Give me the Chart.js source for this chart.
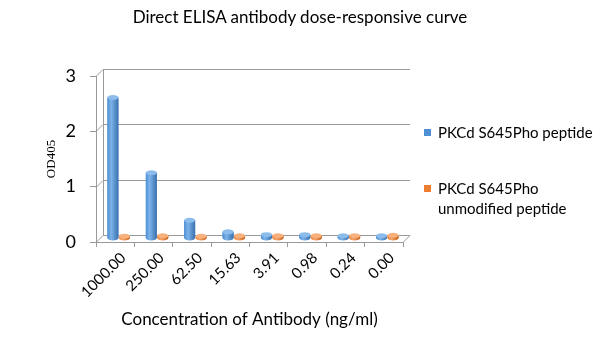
<!DOCTYPE html>
<html>
<head>
<meta charset="utf-8">
<script src="https://cdn.jsdelivr.net/npm/chart.js@4.4.1/dist/chart.umd.min.js"></script>
<style>
  body { margin: 0; background: #fff; }
  #box { position: relative; width: 600px; height: 338px; }
  #titulo { position: absolute; left: 0; top: 6px; width: 600px; text-align: center; font: 17px Lato, sans-serif; color: #000; }
  #legenda { position: absolute; left: 424px; top: 120px; font: 15px Lato, sans-serif; color: #000; }
  .item { position: absolute; left: 0; white-space: nowrap; line-height: 20px; }
  .quad { position: absolute; left: 0; top: 7px; width: 7px; height: 7px; }
  .txt { margin-left: 14px; }
</style>
</head>
<body>
<div id="box">
  <canvas id="grafico" width="600" height="338"></canvas>
  <div id="titulo">Direct ELISA antibody dose-responsive curve</div>
  <div id="legenda"></div>
</div>
<script>
// dados do ELISA direto
const concentracoes = ['1000.00', '250.00', '62.50', '15.63', '3.91', '0.98', '0.24', '0.00'];
const fosfoPeptideo = [2.55, 1.19, 0.33, 0.12, 0.07, 0.07, 0.05, 0.05];
const naoModificado = [0.04, 0.05, 0.04, 0.05, 0.05, 0.05, 0.05, 0.06];
const nomesSeries = [['PKCd S645Pho peptide'], ['PKCd S645Pho', 'unmodified peptide']];
const marcasY = [0, 1, 2, 3];

const cores = [
  { base: '#4f8fd3', claro: '#7db3ea', escuro: '#3a70ad', topo: '#8cbcec' },
  { base: '#ed7d31', claro: '#f7a468', escuro: '#c9601a', topo: '#f8b07c' }
];
const cinza = '#9a9a9a';
// profundidade do "3D" (parede do fundo)
const prof = 7;

// parede do fundo, chão e desenho das colunas arredondadas
const efeito3d = {
  id: 'efeito3d',
  beforeDatasetsDraw(chart) {
    const ctx = chart.ctx;
    const area = chart.chartArea;
    const y = chart.scales.y;
    ctx.save();
    ctx.strokeStyle = cinza;
    ctx.lineWidth = 1;
    ctx.beginPath();
    marcasY.forEach(function (v) {
      const py = Math.round(y.getPixelForValue(v)) + 0.5;
      ctx.moveTo(area.left, py);
      ctx.lineTo(area.left + prof, py - prof);
      ctx.lineTo(area.right + prof, py - prof);
    });
    ctx.moveTo(area.left + prof + 0.5, area.top - prof);
    ctx.lineTo(area.left + prof + 0.5, area.bottom - prof);
    ctx.moveTo(area.right, area.bottom + 0.5);
    ctx.lineTo(area.right + prof, area.bottom - prof + 0.5);
    ctx.stroke();
    ctx.restore();
    // colunas ficam no meio da profundidade
    ctx.save();
    ctx.translate(prof / 2, -prof / 2);
  },
  afterDatasetsDraw(chart) {
    const ctx = chart.ctx;
    chart.data.datasets.forEach(function (ds, i) {
      const c = cores[i];
      chart.getDatasetMeta(i).data.forEach(function (bar) {
        const w = bar.width;
        const x0 = bar.x - w / 2;
        const ry = 2.5;
        const g = ctx.createLinearGradient(x0, 0, x0 + w, 0);
        g.addColorStop(0, c.base);
        g.addColorStop(0.35, c.claro);
        g.addColorStop(1, c.escuro);
        ctx.fillStyle = g;
        // fundo arredondado
        ctx.beginPath();
        ctx.ellipse(bar.x, bar.base, w / 2, ry, 0, 0, Math.PI * 2);
        ctx.fill();
        ctx.fillRect(x0, bar.y, w, bar.base - bar.y);
        // tampa
        ctx.fillStyle = c.topo;
        ctx.beginPath();
        ctx.ellipse(bar.x, bar.y, w / 2, ry, 0, 0, Math.PI * 2);
        ctx.fill();
      });
    });
    ctx.restore();
  }
};

let myChart = new Chart(document.getElementById('grafico'), {
  type: 'bar',
  data: {
    labels: concentracoes,
    datasets: [
      { label: nomesSeries[0].join(' '), data: fosfoPeptideo, backgroundColor: cores[0].base },
      { label: nomesSeries[1].join(' '), data: naoModificado, backgroundColor: cores[1].base }
    ]
  },
  options: {
    responsive: false,
    animation: false,
    layout: { padding: { left: 44, right: 197, top: 76, bottom: 8 } },
    datasets: { bar: { categoryPercentage: 0.6, barPercentage: 0.95 } },
    plugins: {
      legend: { display: false },
      tooltip: { enabled: false },
      title: { display: false }
    },
    scales: {
      x: {
        grid: { drawOnChartArea: false, color: cinza, tickLength: 5 },
        border: { color: cinza },
        ticks: { color: '#000', font: { family: 'Lato', size: 15 }, minRotation: 45, maxRotation: 45, padding: 2, labelOffset: 8 },
        title: { display: true, text: 'Concentration of Antibody (ng/ml)', color: '#000', font: { family: 'Lato', size: 17 }, padding: 0 },
        afterFit(s) { s.height = 88; }
      },
      y: {
        min: 0,
        max: 3,
        grid: { drawOnChartArea: false, color: cinza, tickLength: 6 },
        border: { color: cinza },
        ticks: { stepSize: 1, color: '#000', font: { family: 'Lato', size: 18 }, padding: 14 },
        title: { display: true, text: 'OD405', color: '#000', font: { family: 'Liberation Serif', size: 13 }, padding: 0 },
        afterFit(s) { s.width = 52; }
      }
    }
  },
  plugins: [efeito3d]
});

// legenda ao lado
const legenda = document.getElementById('legenda');
const topos = [2, 58];
nomesSeries.forEach(function (linhas, i) {
  const item = document.createElement('div');
  item.className = 'item';
  item.style.top = topos[i] + 'px';
  item.innerHTML = '<span class="quad" style="background:' + cores[i].base + '"></span>' +
    '<div class="txt">' + linhas.join('<br>') + '</div>';
  legenda.appendChild(item);
});
</script>
</body>
</html>
